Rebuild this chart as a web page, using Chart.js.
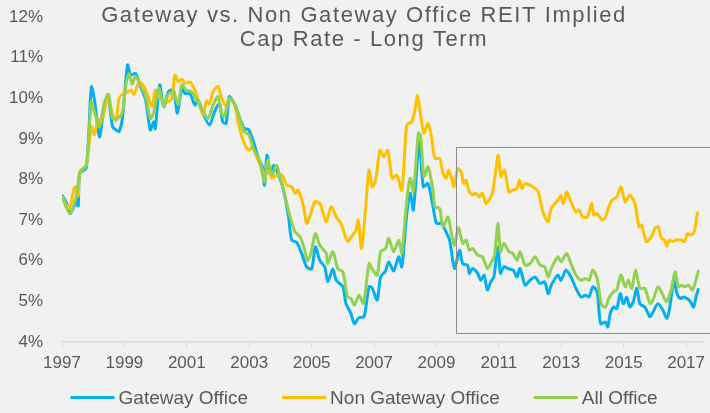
<!DOCTYPE html>
<html>
<head>
<meta charset="utf-8">
<script src="https://cdn.jsdelivr.net/npm/chart.js@4.4.1/dist/chart.umd.min.js"></script>
<style>
  html, body { margin: 0; padding: 0; background: #f0f1f0; }
  #wrap { width: 710px; height: 413px; }
</style>
</head>
<body>
<div id="wrap"><canvas id="capChart" width="710" height="413"></canvas></div>
<script>
const titleLines = ["Gateway vs. Non Gateway Office REIT Implied", "Cap Rate - Long Term"];
const seriesNames = ["Gateway Office", "Non Gateway Office", "All Office"];
const seriesColors = ["#00b0f0", "#ffc000", "#92d050"];
const yearTicks = [1997, 1999, 2001, 2003, 2005, 2007, 2009, 2011, 2013, 2015, 2017];

// [year, cap rate %]
const gatewayOffice = [
  [1997.0,7.62],[1997.15,7.41],[1997.25,7.16],[1997.36,7.29],[1997.46,7.45],[1997.52,7.35],[1997.57,8.16],[1997.78,8.28],
  [1997.94,10.28],[1998.04,9.96],[1998.2,9.05],[1998.31,9.54],[1998.47,10.08],[1998.62,9.3],[1998.73,9.22],[1998.83,9.18],
  [1998.94,9.54],[1999.1,10.82],[1999.2,10.57],[1999.36,10.61],[1999.52,10.28],[1999.68,9.96],[1999.83,9.22],[1999.94,9.42],
  [1999.99,9.25],[2000.13,10.33],[2000.26,9.79],[2000.41,10.16],[2000.57,10.2],[2000.7,9.63],[2000.84,10.25],[2000.94,10.12],
  [2001.1,10.12],[2001.26,9.83],[2001.36,9.96],[2001.52,9.63],[2001.73,9.34],[2001.89,9.67],[2002.05,9.87],[2002.15,9.42],
  [2002.26,9.38],[2002.36,10.04],[2002.52,9.87],[2002.68,9.54],[2002.84,9.26],[2002.99,9.22],[2003.15,8.89],[2003.31,8.48],
  [2003.42,8.31],[2003.49,7.86],[2003.57,8.6],[2003.68,8.11],[2003.78,8.35],[2003.94,8.11],[2004.1,7.74],[2004.26,7.08],
  [2004.36,6.51],[2004.52,6.45],[2004.68,6.18],[2004.84,5.85],[2005.0,5.8],[2005.12,6.34],[2005.26,6.01],[2005.42,5.85],
  [2005.52,5.48],[2005.68,5.8],[2005.79,5.52],[2006.0,5.36],[2006.1,4.95],[2006.26,4.7],[2006.37,4.45],[2006.52,4.6],
  [2006.68,4.62],[2006.84,5.36],[2006.94,5.33],[2007.1,5.03],[2007.21,5.6],[2007.37,5.75],[2007.47,5.97],[2007.63,5.75],
  [2007.79,6.1],[2007.89,5.85],[2008.05,7.16],[2008.16,7.66],[2008.26,7.25],[2008.45,8.93],[2008.58,7.82],[2008.73,7.9],
  [2008.89,7.33],[2009.0,6.92],[2009.16,6.92],[2009.31,6.71],[2009.42,6.51],[2009.58,5.81],[2009.74,6.26],[2009.84,5.93],
  [2010.0,5.89],[2010.05,5.69],[2010.16,5.81],[2010.32,5.69],[2010.42,5.52],[2010.53,5.64],[2010.63,5.28],[2010.74,5.48],
  [2010.84,5.6],[2010.97,6.34],[2011.05,5.69],[2011.16,5.85],[2011.32,5.8],[2011.47,5.76],[2011.58,5.6],[2011.68,5.81],
  [2011.84,5.4],[2012.0,5.52],[2012.16,5.6],[2012.32,5.44],[2012.47,5.48],[2012.58,5.19],[2012.68,5.4],[2012.89,5.65],
  [2012.99,5.52],[2013.15,5.77],[2013.31,5.6],[2013.47,5.32],[2013.63,5.11],[2013.78,5.15],[2013.89,5.11],[2014.01,5.36],
  [2014.15,5.24],[2014.26,4.45],[2014.42,4.49],[2014.49,4.37],[2014.57,4.7],[2014.68,4.86],[2014.78,4.82],[2014.89,5.19],
  [2014.99,4.94],[2015.1,5.1],[2015.2,4.86],[2015.31,5.0],[2015.42,5.32],[2015.52,4.94],[2015.68,4.86],[2015.84,4.62],
  [2015.94,4.74],[2016.1,4.94],[2016.26,4.78],[2016.38,4.58],[2016.47,4.82],[2016.61,5.52],[2016.71,5.19],[2016.82,5.07],
  [2016.92,5.11],[2017.03,5.07],[2017.13,5.0],[2017.24,4.86],[2017.32,5.11],[2017.4,5.32]
];

const nonGatewayOffice = [
  [1997.0,7.58],[1997.15,7.35],[1997.25,7.3],[1997.41,7.82],[1997.52,7.6],[1997.57,8.2],[1997.78,8.35],[1997.94,9.3],
  [1998.04,9.1],[1998.15,9.5],[1998.25,9.4],[1998.47,10.0],[1998.62,9.6],[1998.73,9.45],[1998.83,10.0],[1998.94,10.1],
  [1999.1,10.15],[1999.2,10.2],[1999.31,10.1],[1999.47,10.4],[1999.62,10.3],[1999.73,10.1],[1999.89,9.8],[1999.99,10.2],
  [2000.15,10.0],[2000.36,9.9],[2000.52,10.0],[2000.62,10.57],[2000.73,10.4],[2000.84,10.47],[2000.94,10.37],[2001.1,10.4],
  [2001.26,10.2],[2001.36,9.96],[2001.52,9.59],[2001.63,9.93],[2001.73,9.87],[2001.84,10.16],[2002.0,10.29],[2002.1,10.04],
  [2002.26,9.79],[2002.36,10.0],[2002.52,9.87],[2002.68,9.3],[2002.84,8.89],[2002.99,8.72],[2003.1,8.8],[2003.26,8.52],
  [2003.42,8.23],[2003.52,8.11],[2003.63,8.23],[2003.73,8.03],[2003.89,8.11],[2004.05,8.11],[2004.2,7.86],[2004.36,7.82],
  [2004.47,7.66],[2004.57,7.74],[2004.73,7.37],[2004.84,6.92],[2004.94,7.08],[2005.1,7.45],[2005.26,7.41],[2005.36,7.2],
  [2005.47,6.96],[2005.63,7.33],[2005.79,7.08],[2005.94,6.92],[2006.05,6.67],[2006.15,6.47],[2006.31,6.63],[2006.42,6.75],
  [2006.49,7.0],[2006.6,6.3],[2006.73,7.29],[2006.84,8.23],[2006.94,7.82],[2007.05,7.98],[2007.19,8.72],[2007.31,8.56],
  [2007.44,8.72],[2007.58,8.03],[2007.73,8.11],[2007.89,7.74],[2008.05,9.34],[2008.21,9.42],[2008.31,9.71],[2008.39,10.08],
  [2008.47,9.71],[2008.6,9.14],[2008.73,9.38],[2008.84,9.05],[2008.95,8.52],[2009.1,8.52],[2009.21,8.15],[2009.31,8.03],
  [2009.39,8.23],[2009.47,8.07],[2009.56,7.82],[2009.68,8.27],[2009.79,8.19],[2009.87,7.9],[2009.95,7.98],[2010.05,7.7],
  [2010.16,7.62],[2010.26,7.66],[2010.37,7.57],[2010.47,7.66],[2010.58,7.41],[2010.68,7.49],[2010.79,7.66],[2010.89,8.15],
  [2010.98,8.6],[2011.07,8.07],[2011.18,8.23],[2011.32,7.7],[2011.45,7.74],[2011.58,7.78],[2011.66,7.98],[2011.74,7.78],
  [2011.84,7.9],[2012.0,7.86],[2012.16,7.78],[2012.26,7.7],[2012.37,7.33],[2012.47,7.08],[2012.58,6.96],[2012.68,7.29],
  [2012.89,7.49],[2012.99,7.6],[2013.07,7.41],[2013.17,7.7],[2013.31,7.45],[2013.47,7.2],[2013.57,7.25],[2013.68,7.08],
  [2013.84,7.08],[2013.97,7.41],[2014.05,7.12],[2014.15,7.16],[2014.31,7.0],[2014.42,7.08],[2014.52,7.33],[2014.63,7.49],
  [2014.78,7.57],[2014.91,7.82],[2015.05,7.45],[2015.2,7.62],[2015.36,7.41],[2015.49,6.84],[2015.57,6.88],[2015.73,6.47],
  [2015.89,6.59],[2015.99,6.79],[2016.1,6.84],[2016.21,6.55],[2016.31,6.51],[2016.38,6.36],[2016.47,6.51],[2016.57,6.47],
  [2016.68,6.51],[2016.84,6.51],[2016.94,6.47],[2017.05,6.67],[2017.15,6.63],[2017.26,6.71],[2017.36,7.16],[2017.4,7.2]
];

const allOffice = [
  [1997.0,7.58],[1997.25,7.16],[1997.46,7.6],[1997.57,8.16],[1997.78,8.35],[1997.94,9.91],[1998.04,9.66],[1998.2,9.3],
  [1998.36,9.9],[1998.49,10.1],[1998.62,9.5],[1998.78,9.5],[1998.94,9.65],[1999.04,10.3],[1999.15,10.6],[1999.25,10.35],
  [1999.36,10.55],[1999.52,10.3],[1999.68,10.05],[1999.83,9.5],[1999.94,9.65],[2000.1,10.25],[2000.26,9.8],[2000.41,10.1],
  [2000.57,10.15],[2000.73,9.85],[2000.84,10.33],[2000.99,10.2],[2001.15,10.16],[2001.36,9.91],[2001.52,9.67],[2001.68,9.5],
  [2001.84,9.83],[2002.0,10.04],[2002.1,9.67],[2002.2,9.54],[2002.36,10.0],[2002.52,9.87],[2002.68,9.54],[2002.84,9.18],
  [2002.99,9.1],[2003.15,8.72],[2003.31,8.52],[2003.49,7.94],[2003.59,8.48],[2003.73,8.11],[2003.87,8.35],[2003.99,8.06],
  [2004.15,7.57],[2004.31,7.08],[2004.47,6.71],[2004.63,6.59],[2004.78,6.26],[2004.86,6.0],[2004.94,6.1],[2005.0,6.26],
  [2005.12,6.67],[2005.26,6.38],[2005.47,6.18],[2005.52,5.93],[2005.68,6.22],[2005.84,5.8],[2006.0,5.73],[2006.15,5.11],
  [2006.26,5.07],[2006.37,4.91],[2006.52,5.15],[2006.66,4.95],[2006.84,5.93],[2006.94,5.8],[2007.1,5.64],[2007.21,6.22],
  [2007.37,6.3],[2007.47,6.55],[2007.63,6.22],[2007.79,6.51],[2007.89,6.18],[2008.05,7.49],[2008.16,8.03],[2008.26,7.7],
  [2008.42,9.14],[2008.49,9.1],[2008.6,8.07],[2008.73,8.31],[2008.89,7.74],[2008.95,7.33],[2009.1,7.29],[2009.21,6.84],
  [2009.37,7.08],[2009.47,6.71],[2009.58,6.38],[2009.7,6.82],[2009.84,6.43],[2009.95,6.51],[2010.05,6.26],[2010.16,6.3],
  [2010.32,6.14],[2010.47,6.1],[2010.63,5.81],[2010.74,5.93],[2010.86,6.14],[2010.97,6.92],[2011.05,6.22],[2011.16,6.43],
  [2011.32,6.22],[2011.45,6.18],[2011.58,6.01],[2011.68,6.22],[2011.84,5.89],[2012.0,5.93],[2012.16,6.1],[2012.32,5.89],
  [2012.47,5.85],[2012.58,5.6],[2012.68,5.81],[2012.89,6.1],[2012.99,5.97],[2013.17,6.18],[2013.31,5.93],[2013.47,5.65],
  [2013.63,5.52],[2013.78,5.56],[2013.89,5.52],[2014.01,5.77],[2014.15,5.56],[2014.29,4.91],[2014.42,4.86],[2014.52,5.07],
  [2014.68,5.24],[2014.78,5.28],[2014.91,5.65],[2015.05,5.36],[2015.15,5.52],[2015.26,5.32],[2015.38,5.77],[2015.52,5.32],
  [2015.68,5.32],[2015.84,4.95],[2015.94,5.03],[2016.1,5.36],[2016.26,5.15],[2016.38,4.99],[2016.52,5.28],[2016.65,5.73],
  [2016.75,5.36],[2016.86,5.4],[2016.96,5.36],[2017.07,5.4],[2017.21,5.28],[2017.4,5.77]
];

// grey frame around the post-2009 period (in data units)
const frameStart = 2009.62;
const frameTop = 8.81;
const frameBottom = 4.22;

const textColor = "#595959";
const fontFamily = '"Liberation Sans", Arial, sans-serif';

const toPoints = rows => rows.map(r => ({ x: r[0], y: r[1] }));

// title drawn over the top of the plot
const titlePlugin = {
  id: "titleText",
  afterDraw(chart) {
    const ctx = chart.ctx;
    ctx.save();
    ctx.fillStyle = textColor;
    ctx.font = "22px " + fontFamily;
    ctx.letterSpacing = "1.6px";
    ctx.textAlign = "center";
    ctx.textBaseline = "alphabetic";
    ctx.fillText(titleLines[0], 364, 22);
    ctx.fillText(titleLines[1], 364, 46);
    ctx.restore();
  }
};

const framePlugin = {
  id: "frameBox",
  afterDatasetsDraw(chart) {
    const ctx = chart.ctx;
    const xs = chart.scales.x, ys = chart.scales.y;
    const left = Math.round(xs.getPixelForValue(frameStart)) + 0.5;
    const top = Math.round(ys.getPixelForValue(frameTop)) + 0.5;
    const bottom = Math.round(ys.getPixelForValue(frameBottom)) + 0.5;
    ctx.save();
    ctx.strokeStyle = "#8a8a8a";
    ctx.lineWidth = 1;
    ctx.beginPath();
    ctx.moveTo(chart.width + 5, top);
    ctx.lineTo(left, top);
    ctx.lineTo(left, bottom);
    ctx.lineTo(chart.width + 5, bottom);
    ctx.stroke();
    ctx.restore();
  }
};

// legend: short line + name, centred under the plot
const legendPlugin = {
  id: "lineLegend",
  afterDraw(chart) {
    const ctx = chart.ctx;
    const lineLen = 44, gap = 4, itemGap = 34, y = 397.5;
    ctx.save();
    ctx.font = "19px " + fontFamily;
    const widths = seriesNames.map(n => ctx.measureText(n).width);
    let total = itemGap * (seriesNames.length - 1);
    widths.forEach(w => total += lineLen + gap + w);
    let x = 364 - total / 2;
    seriesNames.forEach((name, i) => {
      ctx.strokeStyle = seriesColors[i];
      ctx.lineWidth = 3;
      ctx.beginPath();
      ctx.moveTo(x, y);
      ctx.lineTo(x + lineLen, y);
      ctx.stroke();
      ctx.fillStyle = textColor;
      ctx.textBaseline = "alphabetic";
      ctx.fillText(name, x + lineLen + gap, y + 6.5);
      x += lineLen + gap + widths[i] + itemGap;
    });
    ctx.restore();
  }
};

const seriesData = [gatewayOffice, nonGatewayOffice, allOffice];

new Chart(document.getElementById("capChart"), {
  type: "line",
  data: {
    datasets: seriesData.map((rows, i) => ({
      label: seriesNames[i],
      data: toPoints(rows),
      borderColor: seriesColors[i],
      backgroundColor: seriesColors[i],
      borderWidth: 3,
      pointRadius: 0,
      tension: 0.25,
      fill: false,
      order: 3 - i
    }))
  },
  options: {
    responsive: false,
    animation: false,
    layout: { padding: { top: 17, bottom: 35, left: 0, right: 0 } },
    plugins: {
      legend: { display: false },
      title: { display: false },
      tooltip: { enabled: false }
    },
    scales: {
      x: {
        type: "linear",
        min: 1997,
        max: 2017.57,
        afterBuildTicks(scale) { scale.ticks = yearTicks.map(v => ({ value: v })); },
        afterFit(scale) { scale.height = 36; },
        grid: { drawOnChartArea: false, drawTicks: true, tickLength: 6, color: "#d9d9d9" },
        border: { display: true, color: "#d9d9d9", width: 1.5 },
        ticks: {
          autoSkip: false,
          maxRotation: 0,
          padding: 5,
          color: textColor,
          font: { family: fontFamily, size: 17 },
          callback: v => String(v)
        }
      },
      y: {
        min: 4,
        max: 12,
        afterFit(scale) {
          scale.width = 62;
          scale.paddingTop = 0;
          scale.paddingBottom = 0;
        },
        grid: { display: false, drawTicks: false },
        border: { display: false },
        ticks: {
          stepSize: 1,
          padding: 19,
          color: textColor,
          font: { family: fontFamily, size: 17 },
          callback: v => v + "%"
        }
      }
    }
  },
  plugins: [framePlugin, titlePlugin, legendPlugin]
});
</script>
</body>
</html>
